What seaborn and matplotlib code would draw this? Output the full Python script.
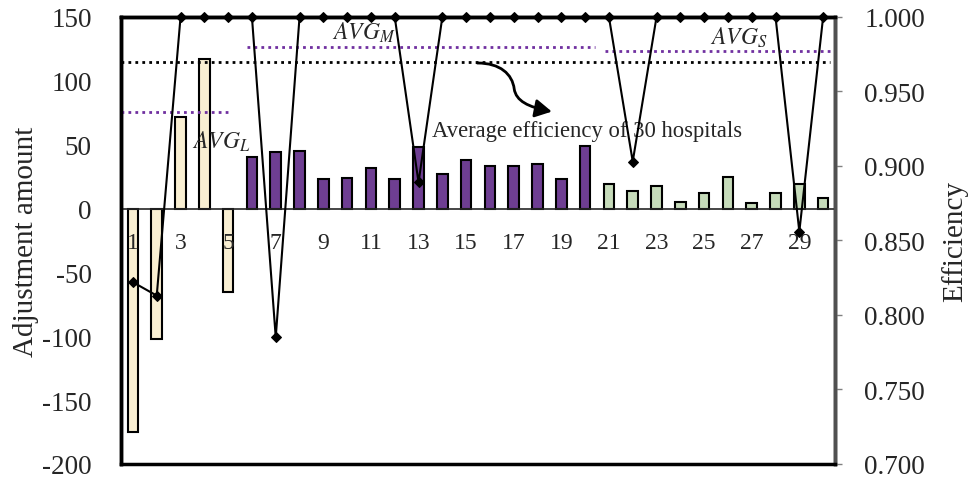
import matplotlib
matplotlib.use("Agg")
import matplotlib.pyplot as plt
from matplotlib.path import Path
from matplotlib.patches import FancyArrowPatch
import seaborn as sns
import pandas as pd

# Hospital adjustment amounts and efficiency scores
hospitals = list(range(1, 31))
groups = ["L"] * 5 + ["M"] * 15 + ["S"] * 10
adjustment = [-175, -102, 72, 117, -65,
              40, 44, 45, 23, 24, 32, 23, 48, 27, 38, 33, 33, 35, 23, 49,
              19, 14, 18, 5, 12, 25, 4, 12, 19, 8]
efficiency = [0.822, 0.813, 1.000, 1.000, 1.000,
              1.000, 0.785, 1.000, 1.000, 1.000, 1.000, 1.000, 0.889, 1.000, 1.000,
              1.000, 1.000, 1.000, 1.000, 1.000,
              1.000, 0.903, 1.000, 1.000, 1.000, 1.000, 1.000, 1.000, 0.856, 1.000]

# Group averages of efficiency: (value, first hospital, last hospital)
avg_all = 0.970
avg_L = (0.936, 0.5, 5.05)
avg_M = (0.980, 5.8, 20.4)
avg_S = (0.977, 20.85, 30.5)

group_colors = {"L": "#FFF2CC", "M": "#7030A0", "S": "#C5E0B4"}

left_ticks = [-200, -150, -100, -50, 0, 50, 100, 150]
right_ticks = [0.700, 0.750, 0.800, 0.850, 0.900, 0.950, 1.000]

df = pd.DataFrame({"hospital": hospitals, "group": groups,
                   "adjustment": adjustment, "efficiency": efficiency})

sns.set_style("white")
plt.rcParams["font.family"] = ["Liberation Serif", "DejaVu Serif"]
plt.rcParams["mathtext.fontset"] = "stix"

fig = plt.figure(figsize=(9.73, 4.81), dpi=100)
ax = fig.add_axes([0.1244, 0.0333, 0.7338, 0.9293])
ax.set_axisbelow(False)

sns.barplot(data=df, x="hospital", y="adjustment", hue="group",
            palette=group_colors, dodge=False, native_scale=True,
            width=0.45, edgecolor="black", linewidth=1.5, legend=False,
            ax=ax, zorder=2)

ax.set_xlim(0.5, 30.5)
ax.set_ylim(-200, 150)
ax.set_yticks(left_ticks)
ax.set_yticklabels([str(t) for t in left_ticks], fontsize=19.5)
ax.tick_params(axis="y", length=0, pad=21)
ax.set_ylabel("Adjustment amount", fontsize=21, labelpad=2)

# category axis sits on the zero line
ax.spines["bottom"].set_position(("data", 0))
ax.spines["bottom"].set_linewidth(1.2)
ax.set_xticks(hospitals)
ax.set_xticklabels([str(h) if h % 2 else "" for h in hospitals], fontsize=17)
ax.tick_params(axis="x", direction="out", length=4, width=1, color="#404040", pad=13)
ax.set_xlabel("")
for side in ["left", "top", "right"]:
    ax.spines[side].set_linewidth(2.5)
    ax.spines[side].set_color("black")

ax2 = ax.twinx()
ax2.set_ylim(0.700, 1.000)
sns.lineplot(data=df, x="hospital", y="efficiency", ax=ax2, color="black",
             linewidth=1.5, marker="D", markersize=5.5, markeredgecolor="black",
             clip_on=False, zorder=5)
ax2.set_yticks(right_ticks)
ax2.set_yticklabels([f"{t:.3f}" for t in right_ticks], fontsize=19.5)
ax2.tick_params(axis="y", direction="out", length=5, width=1, color="#808080", pad=16)
ax2.set_ylabel("Efficiency", fontsize=21, labelpad=12)
ax2.set_xlabel("")
for s in ax2.spines.values():
    s.set_visible(True)
    s.set_linewidth(2.5)
    s.set_color("black")
ax2.spines["right"].set_color("#505050")

# overall and group averages
ax2.hlines(avg_all, 0.5, 30.3, colors="black", linestyles=(0, (1, 1.5)), linewidth=2)
purple = "#7030A0"
for val, x0, x1 in [avg_L, avg_M, avg_S]:
    ax2.hlines(val, x0, x1, colors=purple, linestyles=(0, (1, 1.5)), linewidth=2)

ax2.text(9.35, 0.990, r"$AVG_M$", fontsize=17, va="center", ha="left")
ax2.text(25.25, 0.9866, r"$AVG_S$", fontsize=17, va="center", ha="left")
ax2.text(3.48, 0.917, r"$AVG_L$", fontsize=17, va="center", ha="left")
ax2.text(13.58, 0.9235, "Average efficiency of 30 hospitals", fontsize=16.3,
         va="center", ha="left")

# curved pointer from the overall-average line to its caption
pointer = Path([(15.47, 0.9691), (16.43, 0.9691), (16.94, 0.9617), (17.02, 0.9517),
                (17.10, 0.9436), (17.61, 0.9396), (18.60, 0.9365)],
               [Path.MOVETO, Path.CURVE4, Path.CURVE4, Path.CURVE4,
                Path.CURVE4, Path.CURVE4, Path.CURVE4])
ax2.add_patch(FancyArrowPatch(path=pointer,
                              arrowstyle="-|>,head_length=10,head_width=5.5",
                              color="black", linewidth=2.0,
                              transform=ax2.transData))

fig.savefig("out.png", dpi=100)
